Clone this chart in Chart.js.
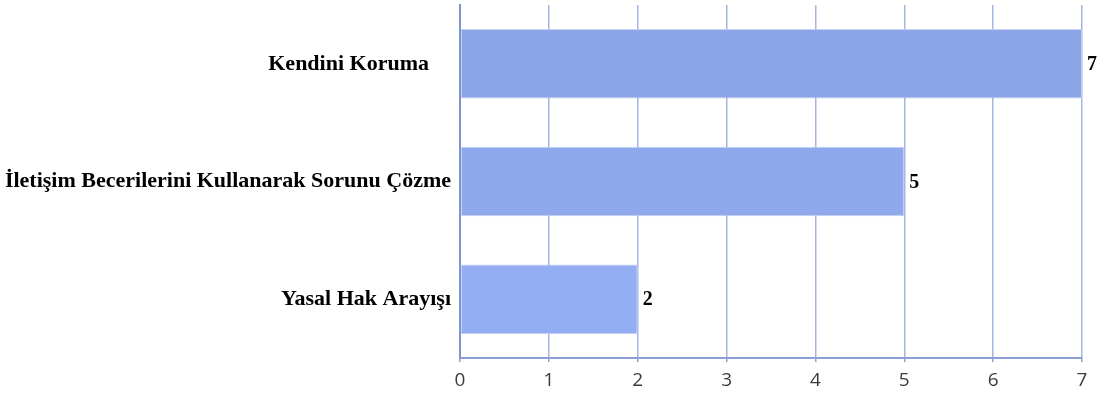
<!DOCTYPE html>
<html>
<head>
<meta charset="utf-8">
<script src="https://cdn.jsdelivr.net/npm/chart.js@4"></script>
<style>
  html, body { margin: 0; padding: 0; background: #ffffff; }
  #wrap { width: 1102px; height: 394px; }
</style>
</head>
<body>
<div id="wrap"><canvas id="chart"></canvas></div>
<script>
var categories = ["Kendini Koruma    ", "İletişim Becerilerini Kullanarak Sorunu Çözme", "Yasal Hak Arayışı"];
var counts = [7, 5, 2];
var barColors = ["#8ba5e6", "#8fa9ec", "#93aef2"];
var xTicks = [0, 1, 2, 3, 4, 5, 6, 7];

// numbers at the end of each bar
var valueLabels = {
  id: "valueLabels",
  afterDatasetsDraw: function(chart) {
    var ctx = chart.ctx;
    var meta = chart.getDatasetMeta(0);
    ctx.save();
    ctx.font = "bold 20px 'Liberation Serif', 'Times New Roman', serif";
    ctx.fillStyle = "#000000";
    ctx.textAlign = "left";
    ctx.textBaseline = "middle";
    meta.data.forEach(function(bar, i) {
      ctx.fillText(String(counts[i]), bar.x + 5, bar.y + 1);
    });
    ctx.restore();
  }
};

var allData = {
  labels: categories,
  datasets: [{
    label: "Sayı",
    data: counts,
    backgroundColor: barColors,
    borderColor: "rgba(190, 205, 245, 0.9)",
    borderWidth: 1,
    borderSkipped: false,
    barPercentage: 0.59,
    categoryPercentage: 1
  }]
};

var chartOptions = {
  indexAxis: "y",
  responsive: true,
  maintainAspectRatio: false,
  animation: false,
  layout: { padding: { top: 5, right: 20, bottom: 0, left: 0 } },
  plugins: {
    legend: { display: false },
    tooltip: { enabled: false }
  },
  scales: {
    x: {
      min: 0,
      max: 7,
      afterBuildTicks: function(scale) {
        scale.ticks = xTicks.map(function(v) { return { value: v }; });
      },
      afterFit: function(scale) {
        scale.height = 36;
        scale.paddingLeft = 0;
        scale.paddingRight = 0;
      },
      grid: {
        color: "#a6b5e0",
        lineWidth: 1.5,
        drawTicks: true,
        tickLength: 4,
        tickColor: "#8fa0d3"
      },
      border: { display: true, color: "#8d9fd4", width: 2 },
      ticks: {
        padding: 7,
        color: "#3c3c3c",
        font: { family: "'Open Sans', sans-serif", size: 19 }
      }
    },
    y: {
      z: 1,
      afterFit: function(scale) {
        scale.width = 460;
        scale.paddingTop = 0;
        scale.paddingBottom = 0;
      },
      grid: { display: false, drawTicks: false },
      border: { display: true, color: "#7f94cf", width: 2 },
      ticks: {
        padding: 9,
        color: "#000000",
        font: { family: "'Liberation Serif', 'Times New Roman', serif", size: 22, weight: "bold" }
      }
    }
  }
};

var config = {
  type: "bar",
  data: allData,
  options: chartOptions,
  plugins: [valueLabels]
};

new Chart(document.getElementById("chart"), config);
</script>
</body>
</html>
